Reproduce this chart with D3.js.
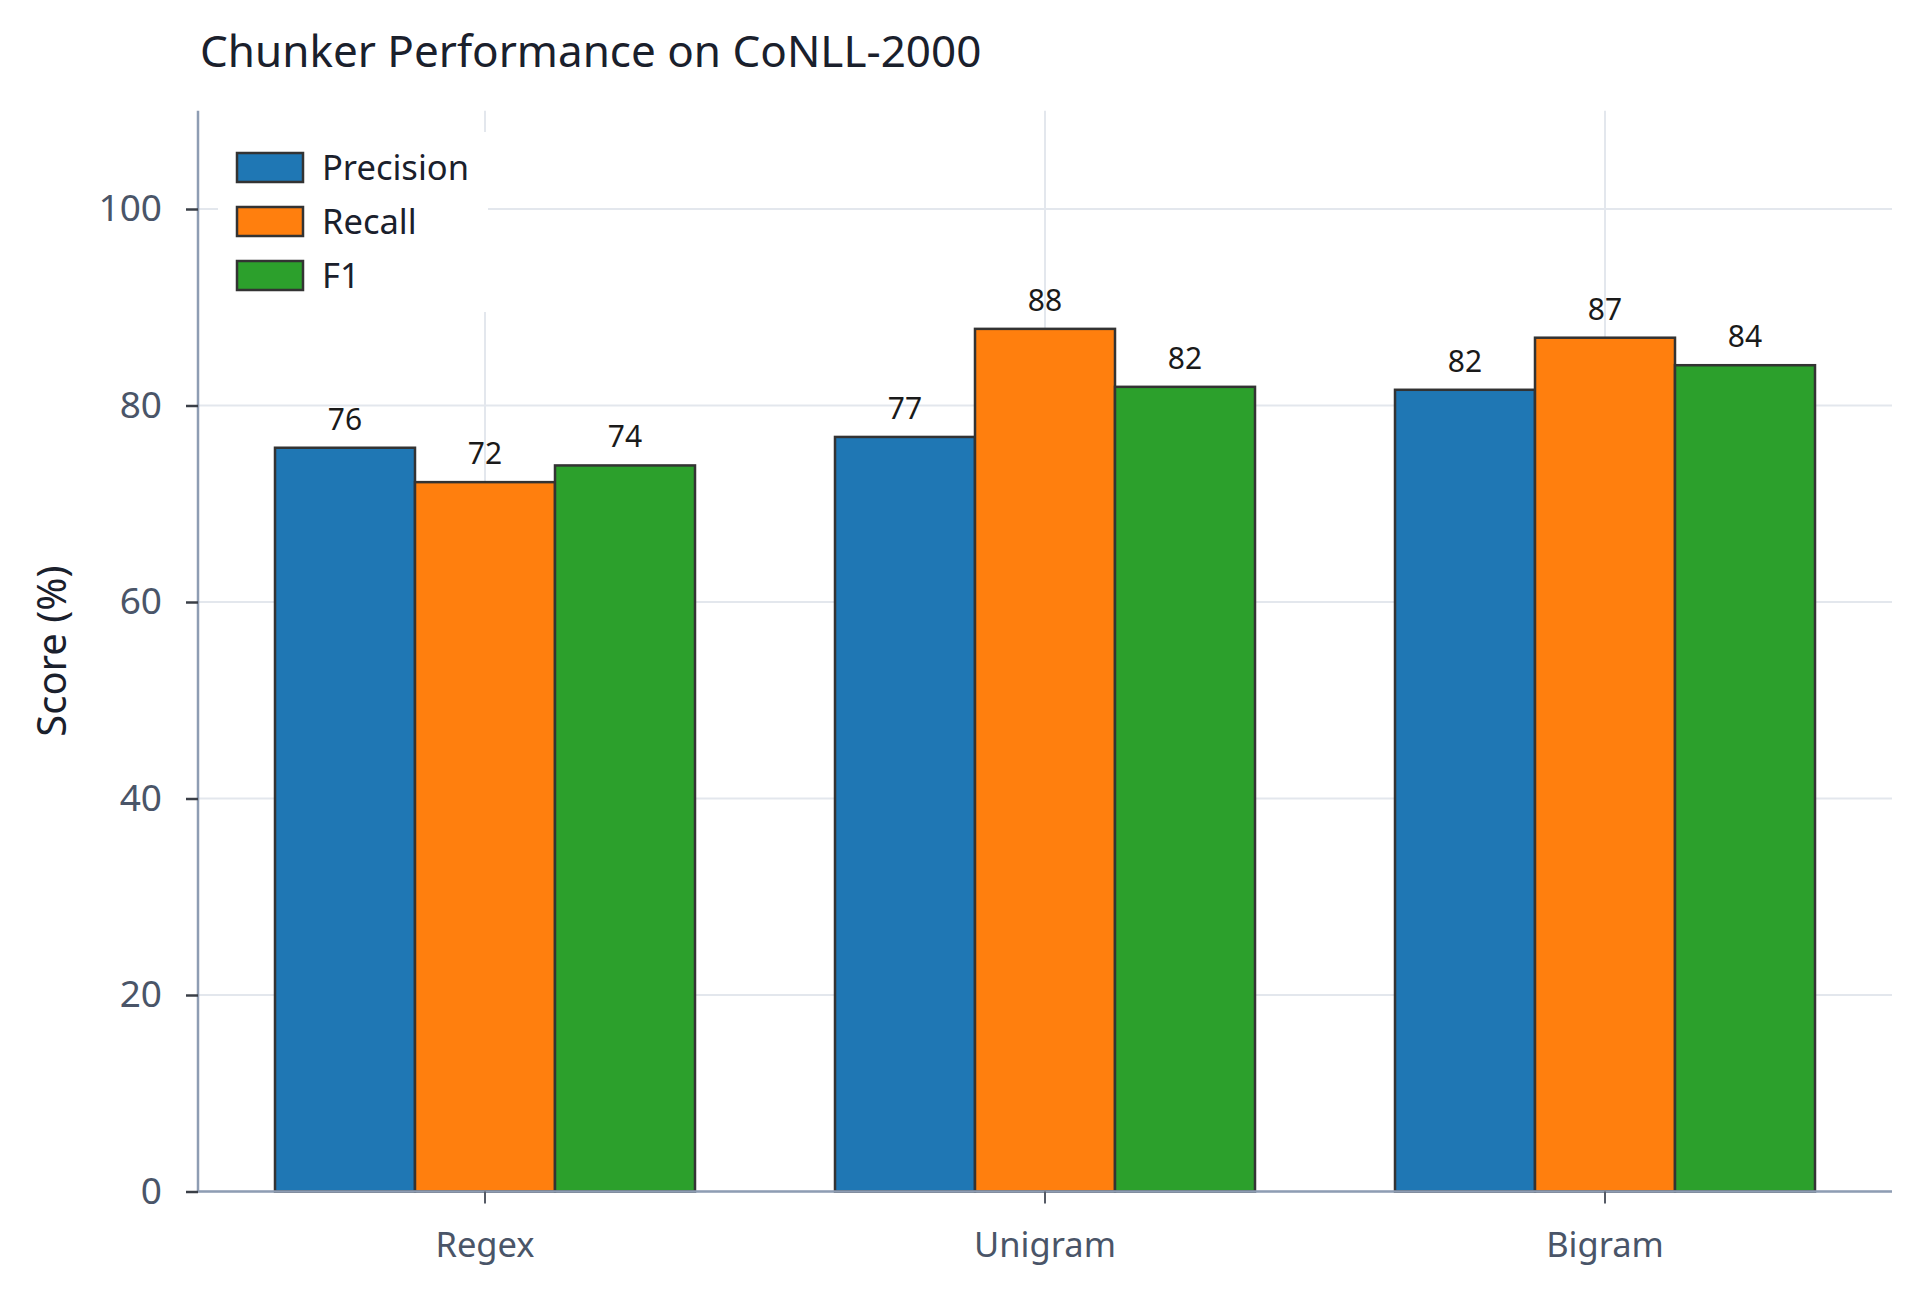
<!DOCTYPE html>
<html>
<head>
<meta charset="utf-8">
<script src="https://cdn.jsdelivr.net/npm/d3@7"></script>
<style>
  body { margin: 0; background: #ffffff; }
  text { font-family: "Noto Sans", "Open Sans", sans-serif; }
</style>
</head>
<body>
<div id="chart"></div>
<script>

// chart data
var chunkers = ["Regex", "Unigram", "Bigram"];
var metrics = ["Precision", "Recall", "F1"];
var precision = [75.7, 76.8, 81.6];
var recall = [72.2, 87.8, 86.9];
var f1 = [73.9, 81.9, 84.1];
var yTicks = [0, 20, 40, 60, 80, 100];
var colors = ["#1f77b4", "#ff7f0e", "#2ca02c"];

// svg params
var svgWidth = 1920;
var svgHeight = 1292;

var margin = {
  top: 110.75,
  right: 28,
  bottom: 100.5,
  left: 198
};

var chartWidth = svgWidth - margin.left - margin.right;
var chartHeight = svgHeight - margin.top - margin.bottom;

var svg = d3.select("#chart").append("svg")
  .attr("width", svgWidth)
  .attr("height", svgHeight);

var chartGroup = svg.append("g")
  .attr("transform", `translate(${margin.left}, ${margin.top})`);

// build rows from the arrays
var rows = chunkers.map(function(c, i) {
  return {
    chunker: c,
    values: [precision[i], recall[i], f1[i]]
  };
});

// Create scale functions
// ==============================
var xScale = d3.scaleBand()
  .domain(chunkers)
  .range([0, chartWidth])
  .paddingInner(0.25)
  .paddingOuter(0.1375);

var xSub = d3.scaleBand()
  .domain(metrics)
  .range([0, xScale.bandwidth()]);

var yScale = d3.scaleLinear()
  .domain([0, 110])
  .range([chartHeight, 0]);

// gridlines
// ==============================
chartGroup.append("g")
  .selectAll("line")
  .data(yTicks)
  .enter()
  .append("line")
  .attr("x1", 0)
  .attr("x2", chartWidth)
  .attr("y1", d => yScale(d))
  .attr("y2", d => yScale(d))
  .attr("stroke", "#e3e7ed")
  .attr("stroke-width", 2);

chartGroup.append("g")
  .selectAll("line")
  .data(chunkers)
  .enter()
  .append("line")
  .attr("x1", d => xScale(d) + xScale.bandwidth() / 2)
  .attr("x2", d => xScale(d) + xScale.bandwidth() / 2)
  .attr("y1", 0)
  .attr("y2", chartHeight)
  .attr("stroke", "#e3e7ed")
  .attr("stroke-width", 2);

// bars + labels
// ==============================
var groups = chartGroup.selectAll(".group")
  .data(rows)
  .enter()
  .append("g")
  .attr("class", "group")
  .attr("transform", d => `translate(${xScale(d.chunker)}, 0)`);

groups.selectAll("rect")
  .data(d => d.values.map((v, j) => ({ metric: metrics[j], value: v, idx: j })))
  .enter()
  .append("rect")
  .attr("x", d => xSub(d.metric))
  .attr("y", d => yScale(d.value))
  .attr("width", xSub.bandwidth())
  .attr("height", d => chartHeight - yScale(d.value))
  .attr("fill", d => colors[d.idx])
  .attr("stroke", "#333333")
  .attr("stroke-width", 2.5);

groups.selectAll(".val")
  .data(d => d.values.map((v, j) => ({ metric: metrics[j], value: v })))
  .enter()
  .append("text")
  .attr("class", "val")
  .attr("x", d => xSub(d.metric) + xSub.bandwidth() / 2)
  .attr("y", d => yScale(d.value) - 18)
  .attr("text-anchor", "middle")
  .style("font-size", "30px")
  .style("fill", "#1a1a1a")
  .text(d => Math.round(d.value));

// axes
// ==============================
var leftAxis = d3.axisLeft(yScale)
  .tickValues(yTicks)
  .tickSize(12)
  .tickPadding(24);

var bottomAxis = d3.axisBottom(xScale)
  .tickSize(12)
  .tickPadding(29);

var yAxisG = chartGroup.append("g")
  .call(leftAxis);

var xAxisG = chartGroup.append("g")
  .attr("transform", `translate(0, ${chartHeight})`)
  .call(bottomAxis);

[yAxisG, xAxisG].forEach(function(g) {
  g.select(".domain")
    .attr("stroke", "#8e9db3")
    .attr("stroke-width", 2.5);
  g.selectAll(".tick line")
    .attr("stroke", "#3a3f47")
    .attr("stroke-width", 2.5);
  g.selectAll(".tick text")
    .style("font-size", "37px")
    .style("fill", "#4a5568")
    .style("font-family", "'Noto Sans', sans-serif");
});

// just the plain spine lines, no end caps
yAxisG.select(".domain").attr("d", `M0,${chartHeight}V0`);
xAxisG.select(".domain").attr("d", `M0,0H${chartWidth}`);
xAxisG.selectAll(".tick line").attr("stroke", "#555b66").attr("stroke-width", 2);
xAxisG.selectAll(".tick text").style("font-size", "34.5px");

// axis label + title
// ==============================
svg.append("text")
  .attr("transform", `translate(50, ${margin.top + chartHeight / 2}) rotate(-90)`)
  .attr("text-anchor", "middle")
  .attr("dominant-baseline", "central")
  .style("font-size", "40px")
  .style("fill", "#1a202c")
  .text("Score (%)");

svg.append("text")
  .attr("x", 200)
  .attr("y", 67)
  .style("font-size", "44px")
  .style("fill", "#1a202c")
  .text("Chunker Performance on CoNLL-2000");

// legend
// ==============================
var legend = svg.append("g")
  .attr("transform", "translate(218, 132)");

legend.append("rect")
  .attr("width", 270)
  .attr("height", 180)
  .attr("fill", "#ffffff");

var legendItems = legend.selectAll(".item")
  .data(metrics)
  .enter()
  .append("g")
  .attr("class", "item")
  .attr("transform", (d, i) => `translate(0, ${35.5 + i * 54})`);

legendItems.append("rect")
  .attr("x", 19)
  .attr("y", -14.5)
  .attr("width", 66)
  .attr("height", 29)
  .attr("fill", (d, i) => colors[i])
  .attr("stroke", "#333333")
  .attr("stroke-width", 2.5);

legendItems.append("text")
  .attr("x", 104)
  .attr("dy", "0.35em")
  .style("font-size", "34.5px")
  .style("fill", "#1a202c")
  .text(d => d);

</script>
</body>
</html>
